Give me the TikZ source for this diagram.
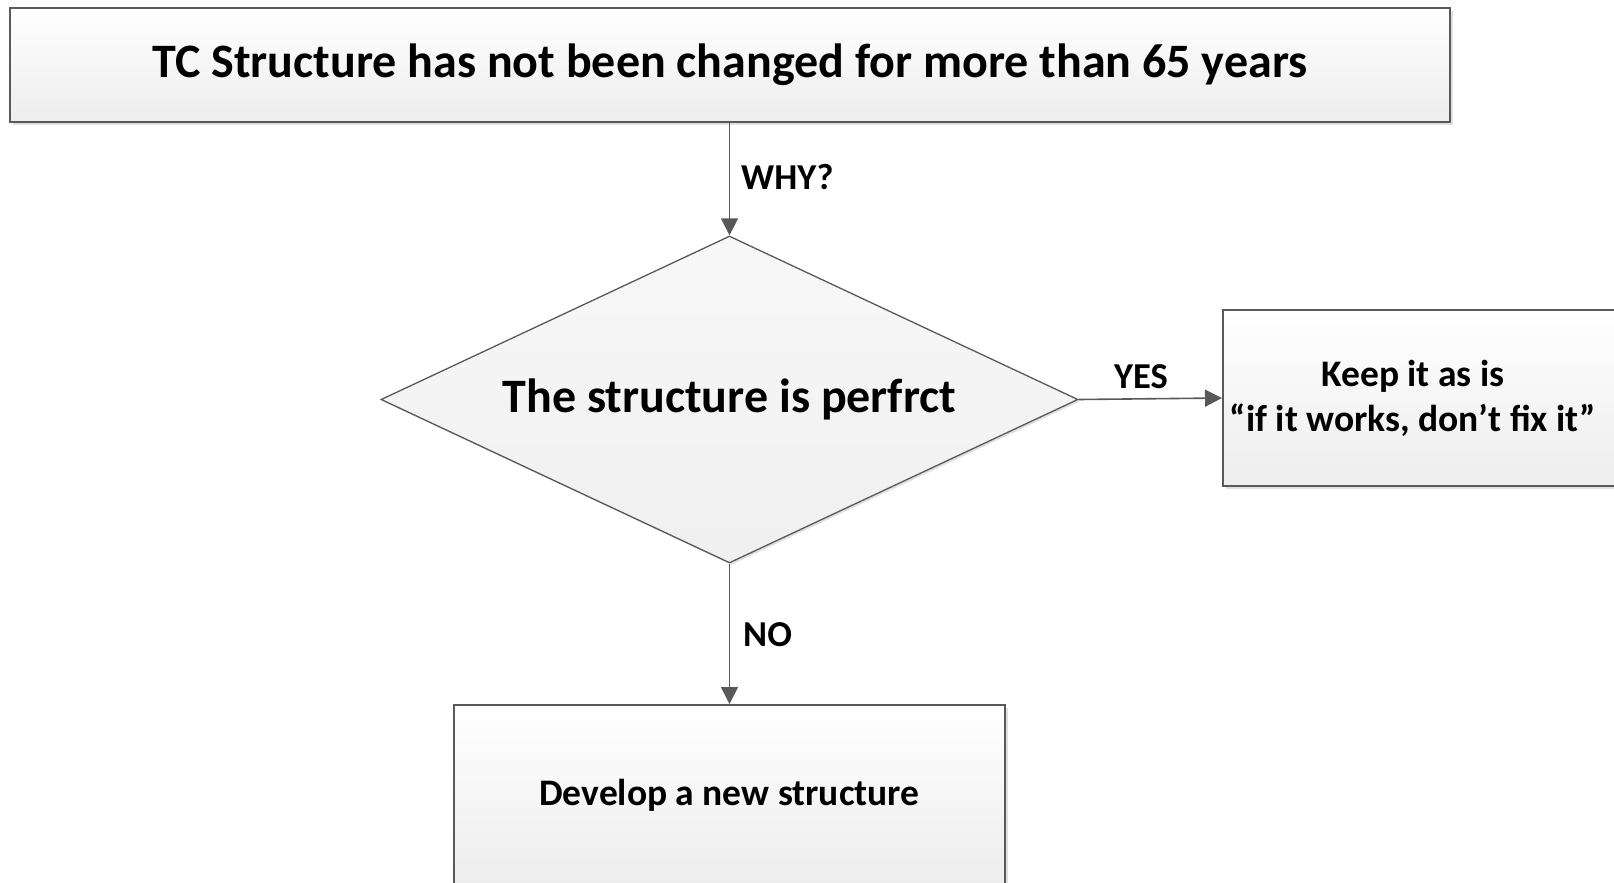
\documentclass[tikz,border=0pt]{standalone}
\usepackage{fontspec}
\setmainfont{Carlito}
\usetikzlibrary{shapes.geometric,arrows.meta,shadows}
\definecolor{edge}{HTML}{595959}
\definecolor{boxbot}{HTML}{EDEDED}
\tikzset{
  card/.style={draw=edge, line width=2pt, rectangle, inner sep=0pt,
    top color=white, bottom color=boxbot,
    drop shadow={shadow xshift=3pt, shadow yshift=-3pt, fill=black!12, opacity=1}},
  decision/.style={draw=edge, line width=1.3pt, diamond, inner sep=0pt,
    shape aspect=2.13,
    top color=white!97!black, bottom color=white!94!black,
    drop shadow={shadow xshift=2pt, shadow yshift=-2pt, fill=black!12, opacity=1}},
  flow/.style={draw=edge, line width=1.6pt, -{Triangle[length=17pt,width=17pt]}},
  tag/.style={font=\bfseries\fontsize{36.5}{42}\selectfont, inner sep=0pt, text=black},
}
\begin{document}
\begin{tikzpicture}[x=1pt,y=-1pt]
  \useasboundingbox (0,0) rectangle (1614,883);
  \clip (0,0) rectangle (1614,883);

  % top statement
  \node[card, minimum width=1440pt, minimum height=114pt,
        font=\bfseries\fontsize{48}{56}\selectfont] (top) at (730,65)
    {TC Structure has not been changed for more than 65 years};

  % decision
  \node[decision, minimum width=697pt, minimum height=327pt,
        font=\bfseries\fontsize{48}{56}\selectfont] (dec) at (729.5,399.5)
    {The structure is perfrct};

  % outcome: keep
  \node[card, minimum width=410pt, minimum height=176pt, anchor=west] (keep) at (1222,398) {};
  \node[font=\bfseries\fontsize{37.5}{45}\selectfont, align=center, inner sep=0pt] (keeptext) at (1413,398)
    {Keep it as is\\“if it works, don’t fix it”};

  % outcome: develop
  \node[card, minimum width=551pt, minimum height=180pt,
        font=\bfseries\fontsize{37.5}{44}\selectfont] (dev) at (729.5,795)
    {Develop a new structure};

  % connectors
  \draw[flow] (top.south -| dec.north) -- (dec.north);
  \draw[flow] (dec.east) -- (keep.west);
  \draw[flow] (dec.south) -- (dev.north -| dec.south);

  % connector labels
  \node[tag, anchor=west] (why) at (741,177) {WHY?};
  \node[tag] (yes) at (1141,377) {YES};
  \node[tag, anchor=west] (no) at (743,635) {NO};
\end{tikzpicture}
\end{document}
